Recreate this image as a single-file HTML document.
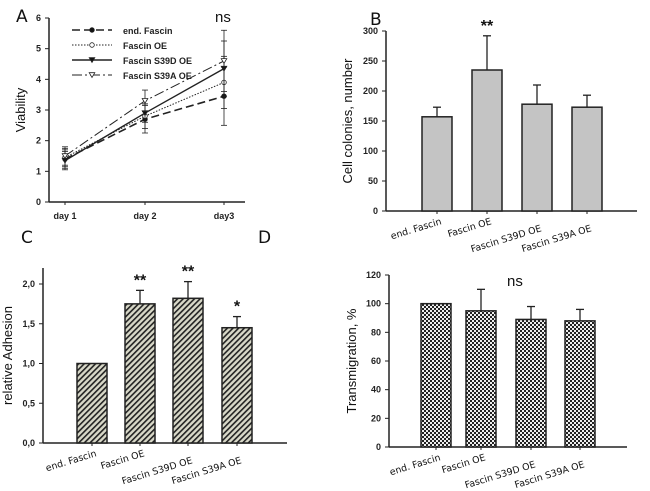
<!DOCTYPE html>
<html><head><meta charset="utf-8"><style>
body{margin:0;background:#fff;}
svg{display:block;font-family:"Liberation Sans",Arial,sans-serif;}
.t{font-size:9px;font-weight:bold;fill:#222;}
.yt{font-size:13px;fill:#111;}
.pl{font-size:17px;fill:#111;font-family:"DejaVu Sans",sans-serif;}
</style></head><body>
<svg id="s" width="650" height="491">
<defs>
<pattern id="hatch" width="4" height="4" patternUnits="userSpaceOnUse" patternTransform="rotate(45)">
<rect width="4" height="4" fill="#d8d8c8"/><rect width="1.6" height="4" fill="#222"/></pattern>
<pattern id="check" width="4" height="4" patternUnits="userSpaceOnUse">
<rect width="4" height="4" fill="#222"/><rect width="2" height="2" fill="#eee"/><rect x="2" y="2" width="2" height="2" fill="#eee"/></pattern>
</defs>
<text class="pl" x="16" y="22">A</text>
<text class="pl" x="370" y="25">B</text>
<text class="pl" x="21" y="243">C</text>
<text class="pl" x="258" y="243">D</text>
</svg>
<script>
// Panel A data
const days=["day 1","day 2","day3"];
const seriesNames=["end. Fascin","Fascin OE","Fascin S39D OE","Fascin S39A OE"];
const endVals=[1.4,2.7,3.45], endErr=[0.3,0.45,0.95];
const oeVals=[1.45,2.8,3.9], oeErr=[0.3,0.4,0.85];
const s39dVals=[1.35,2.9,4.35], s39dErr=[0.3,0.3,0.9];
const s39aVals=[1.5,3.3,4.6], s39aErr=[0.3,0.35,1.0];
const aTicks=[0,1,2,3,4,5,6];
// Panel B
const cats=["end. Fascin","Fascin OE","Fascin  S39D OE","Fascin  S39A OE"];
const bVals=[157,235,178,173], bErr=[16,57,32,20], bTicks=[0,50,100,150,200,250,300];
// Panel C
const cVals=[1.0,1.75,1.82,1.45], cErr=[0,0.17,0.21,0.14], cTicks=["0,0","0,5","1,0","1,5","2,0"];
const cStars=["","**","**","*"];
// Panel D
const dVals=[100,95,89,88], dErr=[0,15,9,8], dTicks=[0,20,40,60,80,100,120];

const S=document.getElementById('s'),NS="http://www.w3.org/2000/svg";
function el(t,a,txt){const e=document.createElementNS(NS,t);for(const k in a)e.setAttribute(k,a[k]);if(txt!==undefined)e.textContent=txt;S.appendChild(e);return e;}
function line(x1,y1,x2,y2,w,extra){return el('line',Object.assign({x1,y1,x2,y2,stroke:'#222','stroke-width':w||1},extra||{}));}

// ---- Panel A
(function(){
const x0=49,y0=202,yTop=18,xEnd=245;
const Y=v=>y0-(v/6)*(y0-yTop);
const X=i=>[65,145,224][i];
let e=line(x0,yTop,x0,y0,1.5);
e=line(x0,y0,xEnd,y0,1.5);
aTicks.forEach(v=>{line(x0-4,Y(v),x0,Y(v));const t=el('text',{class:'t',x:x0-8,y:Y(v)+3,'text-anchor':'end'},v);
});
days.forEach((d,i)=>{line(X(i),y0,X(i),y0+3);const t=el('text',{class:'t',x:X(i),y:y0+17,'text-anchor':'middle'},d);
});
const yt=el('text',{class:'yt',transform:`translate(25,110) rotate(-90)`,'text-anchor':'middle'},'Viability');

const ns=el('text',{x:215,y:22,'font-size':15,fill:'#111'},'ns');

const defs=[[endVals,endErr,'8,4','circle','#111',1.6],[oeVals,oeErr,'1.5,1.5','circle','#fff',1],[s39dVals,s39dErr,'','tri','#111',1.4],[s39aVals,s39aErr,'10,3,2,3','tri','#fff',1]];
defs.forEach((d,k)=>{
 const [vals,err,dash,mk,fill,w]=d;
 const pts=vals.map((v,i)=>X(i)+','+Y(v)).join(' ');
 const p=el('polyline',{points:pts,fill:'none',stroke:'#222','stroke-width':w,'stroke-dasharray':dash});
 
 vals.forEach((v,i)=>{
  line(X(i),Y(v-err[i]),X(i),Y(v+err[i]),0.8);line(X(i)-3,Y(v-err[i]),X(i)+3,Y(v-err[i]),0.8);line(X(i)-3,Y(v+err[i]),X(i)+3,Y(v+err[i]),0.8);
  let m;if(mk=='circle')m=el('circle',{cx:X(i),cy:Y(v),r:2.3,fill,stroke:'#222','stroke-width':0.8});
  else m=el('path',{d:`M${X(i)-2.8},${Y(v)-2.3}L${X(i)+2.8},${Y(v)-2.3}L${X(i)},${Y(v)+2.5}Z`,fill,stroke:'#222','stroke-width':0.8});
  
 });
 const ly=30+k*15;
 const ll=el('line',{x1:72,y1:ly,x2:112,y2:ly,stroke:'#222','stroke-width':w,'stroke-dasharray':dash});
 
 if(mk=='circle')el('circle',{cx:92,cy:ly,r:2.3,fill,stroke:'#222','stroke-width':0.8});
 else el('path',{d:`M89.2,${ly-2.3}L94.8,${ly-2.3}L92,${ly+2.5}Z`,fill,stroke:'#222','stroke-width':0.8});
 const lt=el('text',{class:'t',x:123,y:ly+4,'font-size':10},seriesNames[k]);
 
});
})();

// ---- Bar panels
function bars(o){
 const Y=v=>o.y0-(v/o.max)*(o.y0-o.yMax);
 let e=line(o.x0,o.yTop,o.x0,o.y0,1.5);
 e=line(o.x0,o.y0,o.xEnd,o.y0,1.5);
 o.ticks.forEach((lab,i)=>{const v=o.tickVals[i];line(o.x0-4,Y(v),o.x0,Y(v));
  const t=el('text',{class:'t',x:o.x0-8,y:Y(v)+3,'text-anchor':'end'},lab);
  });
 const yt=el('text',{class:'yt',transform:`translate(${o.ytx},${(o.yTop+o.y0)/2}) rotate(-90)`,'text-anchor':'middle'},o.title);
 
 o.vals.forEach((v,i)=>{
  const cx=o.cx[i],w=30;
  const r=el('rect',{x:cx-w/2,y:Y(v),width:w,height:o.y0-Y(v),fill:o.fill,stroke:'#222','stroke-width':1.5});
  
  if(o.err[i]>0){line(cx,Y(v),cx,Y(v+o.err[i]),1.3);line(cx-4,Y(v+o.err[i]),cx+4,Y(v+o.err[i]),1.3);}
  if(o.stars&&o.stars[i]){const s=el('text',{x:cx,y:Y(v+o.err[i])-5,'text-anchor':'middle','font-size':16,'font-weight':'bold',fill:'#111'},o.stars[i]);
   }
  line(cx,o.y0,cx,o.y0+3);
  const off=[0,0,7,7][i];
  const t=el('text',{'font-size':9.4,fill:'#111',transform:`translate(${cx+5},${o.y0+13+off}) rotate(-17)`,'text-anchor':'end',
   'font-family':'"DejaVu Sans",sans-serif'},cats[i]);
  
 });
}
bars({p:'b',x0:386,y0:211,yTop:31,yMax:31,max:300,xEnd:637,ticks:bTicks,tickVals:bTicks,title:'Cell colonies, number',ytx:352,
 vals:bVals,err:bErr,cx:[437,487,537,587],fill:'#c4c4c4',stars:["","**","",""]});
bars({p:'c',x0:43,y0:443,yTop:268,yMax:284,max:2.0,xEnd:287,ticks:cTicks,tickVals:[0,0.5,1,1.5,2],title:'relative Adhesion',ytx:12,
 vals:cVals,err:cErr,cx:[92,140,188,237],fill:'url(#hatch)',stars:cStars});
bars({p:'d',x0:389,y0:447,yTop:275,yMax:275,max:120,xEnd:627,ticks:dTicks,tickVals:dTicks,title:'Transmigration, %',ytx:356,
 vals:dVals,err:dErr,cx:[436,481,531,580],fill:'url(#check)'});
const ns2=el('text',{x:507,y:286,'font-size':15,fill:'#111'},'ns');

</script>
</body></html>
